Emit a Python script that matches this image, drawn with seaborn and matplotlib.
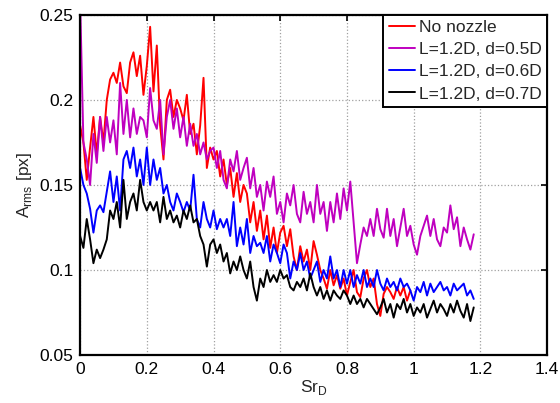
import numpy as np
import pandas as pd
import matplotlib
matplotlib.use("Agg")
import matplotlib.pyplot as plt
import seaborn as sns

# Strouhal number grid (samples every 0.01)
sr_step = 0.01

# No nozzle, Sr_D = 0.00 ... 0.99
no_nozzle = [
    0.185, 0.175, 0.153, 0.172, 0.190, 0.168, 0.190, 0.175, 0.200, 0.212,
    0.216, 0.210, 0.222, 0.208, 0.204, 0.222, 0.228, 0.214, 0.226, 0.203,
    0.220, 0.243, 0.205, 0.232, 0.185, 0.165, 0.200, 0.206, 0.190, 0.200,
    0.195, 0.188, 0.203, 0.180, 0.186, 0.168, 0.185, 0.213, 0.160, 0.172,
    0.165, 0.170, 0.155, 0.165, 0.150, 0.160, 0.143, 0.157, 0.140, 0.150,
    0.145, 0.128, 0.140, 0.123, 0.135, 0.118, 0.132, 0.113, 0.125, 0.110,
    0.122, 0.126, 0.114, 0.124, 0.108, 0.100, 0.114, 0.105, 0.112, 0.100,
    0.117, 0.109, 0.100, 0.095, 0.089, 0.100, 0.091, 0.097, 0.089, 0.095,
    0.085, 0.093, 0.100, 0.087, 0.084, 0.095, 0.100, 0.090, 0.095, 0.080,
    0.073, 0.086, 0.090, 0.087, 0.083, 0.090, 0.085, 0.090, 0.082, 0.088,
]

# L=1.2D, d=0.5D, Sr_D = 0.00 ... 1.18
d05 = [
    0.260, 0.175, 0.165, 0.150, 0.180, 0.163, 0.190, 0.170, 0.190, 0.175,
    0.188, 0.168, 0.210, 0.180, 0.200, 0.178, 0.195, 0.180, 0.190, 0.188,
    0.178, 0.207, 0.188, 0.183, 0.200, 0.168, 0.190, 0.200, 0.183, 0.195,
    0.178, 0.190, 0.173, 0.186, 0.173, 0.180, 0.168, 0.175, 0.165, 0.170,
    0.172, 0.160, 0.170, 0.153, 0.148, 0.165, 0.158, 0.170, 0.153, 0.160,
    0.166, 0.148, 0.160, 0.143, 0.150, 0.135, 0.152, 0.143, 0.155, 0.133,
    0.140, 0.128, 0.145, 0.138, 0.150, 0.133, 0.128, 0.146, 0.133, 0.140,
    0.128, 0.150, 0.133, 0.140, 0.123, 0.140, 0.128, 0.145, 0.130, 0.148,
    0.135, 0.152, 0.128, 0.104, 0.115, 0.125, 0.120, 0.130, 0.120, 0.136,
    0.124, 0.119, 0.136, 0.120, 0.130, 0.114, 0.125, 0.136, 0.120, 0.126,
    0.115, 0.109, 0.120, 0.126, 0.132, 0.120, 0.130, 0.118, 0.114, 0.125,
    0.122, 0.138, 0.124, 0.131, 0.114, 0.125, 0.118, 0.112, 0.121,
]

# L=1.2D, d=0.6D, Sr_D = 0.00 ... 1.18
d06 = [
    0.160, 0.150, 0.145, 0.136, 0.122, 0.135, 0.138, 0.134, 0.146, 0.158,
    0.140, 0.155, 0.135, 0.165, 0.170, 0.160, 0.172, 0.155, 0.165, 0.150,
    0.172, 0.150, 0.165, 0.153, 0.160, 0.145, 0.150, 0.140, 0.135, 0.145,
    0.140, 0.134, 0.140, 0.135, 0.156, 0.130, 0.125, 0.140, 0.130, 0.125,
    0.135, 0.124, 0.130, 0.125, 0.130, 0.120, 0.140, 0.114, 0.125, 0.115,
    0.130, 0.110, 0.120, 0.114, 0.116, 0.110, 0.120, 0.105, 0.115, 0.110,
    0.104, 0.115, 0.110, 0.095, 0.105, 0.100, 0.110, 0.100, 0.105, 0.095,
    0.100, 0.105, 0.093, 0.100, 0.095, 0.108, 0.095, 0.100, 0.090, 0.100,
    0.092, 0.100, 0.090, 0.097, 0.092, 0.100, 0.090, 0.095, 0.090, 0.100,
    0.092, 0.088, 0.095, 0.090, 0.093, 0.088, 0.095, 0.090, 0.092, 0.088,
    0.082, 0.090, 0.087, 0.093, 0.085, 0.092, 0.087, 0.090, 0.093, 0.088,
    0.090, 0.085, 0.092, 0.088, 0.090, 0.092, 0.085, 0.088, 0.083,
]

# L=1.2D, d=0.7D, Sr_D = 0.00 ... 1.18
d07 = [
    0.120, 0.113, 0.130, 0.118, 0.104, 0.112, 0.107, 0.112, 0.118, 0.135,
    0.130, 0.140, 0.125, 0.153, 0.130, 0.140, 0.145, 0.135, 0.153, 0.140,
    0.135, 0.140, 0.135, 0.140, 0.128, 0.143, 0.130, 0.135, 0.128, 0.132,
    0.125, 0.135, 0.130, 0.138, 0.128, 0.130, 0.120, 0.115, 0.102, 0.115,
    0.118, 0.110, 0.115, 0.105, 0.110, 0.098, 0.105, 0.100, 0.108, 0.100,
    0.095, 0.105, 0.090, 0.082, 0.095, 0.090, 0.100, 0.093, 0.097, 0.093,
    0.100, 0.095, 0.097, 0.090, 0.088, 0.093, 0.090, 0.095, 0.088, 0.098,
    0.090, 0.085, 0.090, 0.083, 0.088, 0.082, 0.088, 0.085, 0.083, 0.088,
    0.085, 0.080, 0.085, 0.080, 0.083, 0.078, 0.083, 0.080, 0.077, 0.074,
    0.078, 0.083, 0.075, 0.080, 0.072, 0.080, 0.077, 0.083, 0.075, 0.080,
    0.073, 0.078, 0.075, 0.080, 0.072, 0.077, 0.082, 0.075, 0.080, 0.077,
    0.073, 0.080, 0.075, 0.082, 0.076, 0.072, 0.080, 0.070, 0.078,
]

labels = ["No nozzle", "L=1.2D, d=0.5D", "L=1.2D, d=0.6D", "L=1.2D, d=0.7D"]
colors = ["#ff0000", "#bf00bf", "#0000ff", "#000000"]
x_ticks = [0, 0.2, 0.4, 0.6, 0.8, 1.0, 1.2, 1.4]
y_ticks = [0.05, 0.1, 0.15, 0.2, 0.25]

frames = []
for lab, vals in zip(labels, [no_nozzle, d05, d06, d07]):
    sr = np.round(np.arange(len(vals)) * sr_step, 2)
    frames.append(pd.DataFrame({"Sr": sr, "A": vals, "case": lab}))
df = pd.concat(frames, ignore_index=True)

sns.set_style("white")
plt.rcParams["font.family"] = ["Liberation Sans", "DejaVu Sans"]
plt.rcParams["mathtext.fontset"] = "custom"
plt.rcParams["mathtext.rm"] = "Liberation Sans"

fig = plt.figure(figsize=(5.6, 4.03), dpi=100)
ax = fig.add_axes([0.143, 0.119, 0.834, 0.844])

sns.lineplot(data=df, x="Sr", y="A", hue="case", hue_order=labels,
             palette=dict(zip(labels, colors)), linewidth=1.4, ax=ax,
             estimator=None, sort=False)

ax.set_xlim(0, 1.4)
ax.set_ylim(0.05, 0.25)
ax.set_xticks(x_ticks)
ax.set_yticks(y_ticks)
ax.set_xticklabels(["%g" % t for t in x_ticks])
ax.set_yticklabels(["%g" % t for t in y_ticks])
ax.tick_params(direction="in", top=True, right=True, length=4, width=1.2,
               labelsize=12.5, colors="black", pad=5)
ax.grid(True, linestyle=":", color="#a0a0a0", linewidth=0.9)
for s in ax.spines.values():
    s.set_visible(True)
    s.set_color("black")
    s.set_linewidth(1.6)

ax.set_xlabel(r"Sr$_{\rm D}$", fontsize=12.5, labelpad=1)
ax.set_ylabel(r"A$_{\rm rms}$ [px]", fontsize=12.5, labelpad=4)

leg = ax.legend(loc="upper right", fontsize=12.5, frameon=True, fancybox=False,
                borderaxespad=0.0, handlelength=1.5, handletextpad=0.25,
                labelspacing=0.4, borderpad=0.3)
leg.get_frame().set_edgecolor("black")
leg.get_frame().set_linewidth(1.4)
leg.get_frame().set_alpha(1.0)

fig.savefig("out.png", dpi=100)
